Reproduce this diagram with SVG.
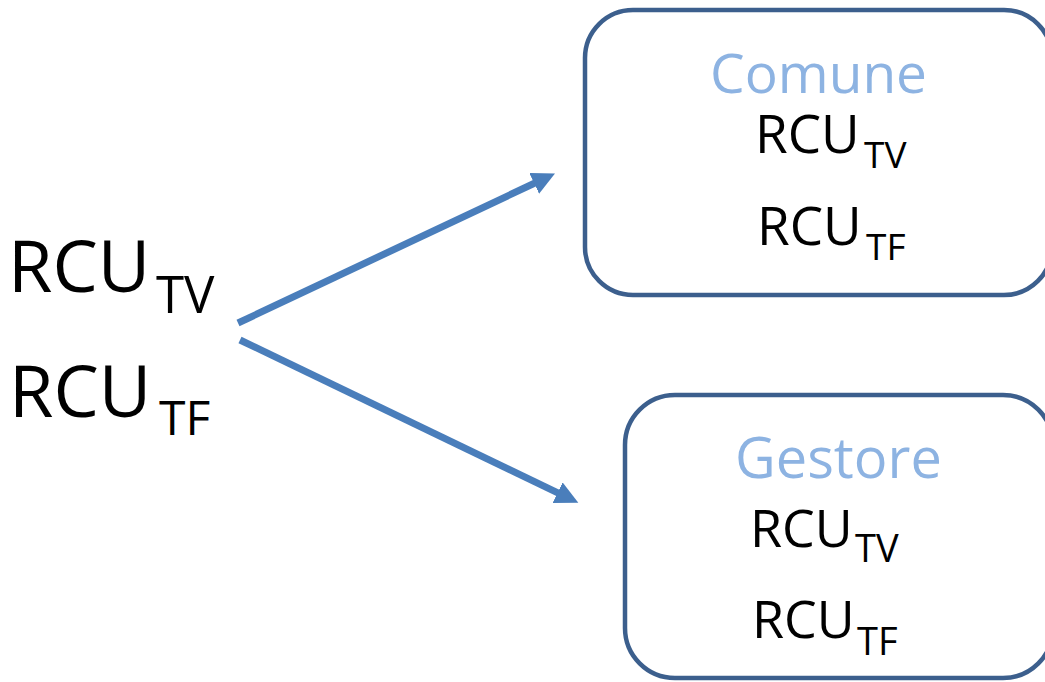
<svg xmlns="http://www.w3.org/2000/svg" width="1045" height="682" viewBox="0 0 1045 682">
<style>
.box{fill:#FFFFFF;stroke:#3C5F8D;stroke-width:4.5}
.t{font-family:"Open Sans","Liberation Sans",sans-serif;fill:#000000}
.h{font-family:"Open Sans","Liberation Sans",sans-serif;fill:#8DB3E2}
.arr{stroke:#4A7EBB;stroke-width:7;fill:none;marker-end:url(#ah)}
</style>
<defs>
<marker id="ah" markerUnits="userSpaceOnUse" markerWidth="24" markerHeight="24" refX="2" refY="11.5" orient="auto" viewBox="0 0 24 24">
<path d="M0,0 L23,11.5 L0,23 z" fill="#4A7EBB"/>
</marker>
</defs>
<rect width="1045" height="682" fill="#FFFFFF"/>
<g id="source">
<text class="t" font-size="72"><tspan x="8" y="292">RCU</tspan><tspan x="156" y="313" font-size="51">TV</tspan></text>
<text class="t" font-size="72"><tspan x="9" y="417">RCU</tspan><tspan x="159" y="435" font-size="48">TF</tspan></text>
</g>
<g id="connectors">
<line class="arr" x1="238" y1="323" x2="536" y2="182.5"/>
<line class="arr" x1="240" y1="340" x2="559.4" y2="493.6"/>
</g>
<g id="comune">
<rect class="box" x="585" y="10" width="467" height="285" rx="48" ry="48"/>
<text class="h" x="710" y="93" font-size="55">Comune</text>
<text class="t" font-size="53"><tspan x="755" y="153">RCU</tspan><tspan x="864" y="168" font-size="37">TV</tspan></text>
<text class="t" font-size="53"><tspan x="757" y="245">RCU</tspan><tspan x="866" y="260" font-size="37">TF</tspan></text>
</g>
<g id="gestore">
<rect class="box" x="625" y="395" width="428" height="283" rx="50" ry="50"/>
<text class="h" x="735" y="478" font-size="56">Gestore</text>
<text class="t" font-size="52"><tspan x="750" y="547">RCU</tspan><tspan x="855" y="562" font-size="38">TV</tspan></text>
<text class="t" font-size="52"><tspan x="752" y="638">RCU</tspan><tspan x="857" y="655" font-size="38">TF</tspan></text>
</g>
</svg>
